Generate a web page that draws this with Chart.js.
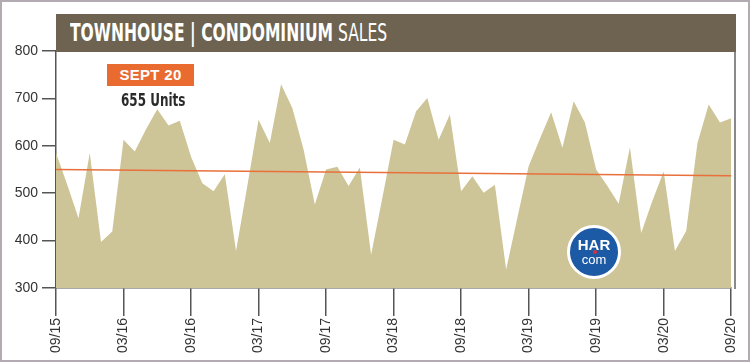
<!DOCTYPE html>
<html>
<head>
<meta charset="utf-8">
<script src="https://cdn.jsdelivr.net/npm/chart.js@4.4.0/dist/chart.umd.min.js"></script>
<style>
  html, body { margin: 0; padding: 0; background: #fff; }
  #wrap { position: relative; width: 750px; height: 362px; overflow: hidden; font-family: "Liberation Sans", Arial, sans-serif; }
  #c { position: absolute; left: 0; top: 0; }
  #frame { position: absolute; left: 0; top: 0; width: 750px; height: 362px; box-sizing: border-box; border: 2px solid #b3abb2; pointer-events: none; }
  #banner { position: absolute; left: 56px; top: 14px; width: 680px; height: 38px; background: #6e6350; }
  #banner span.t { position: absolute; left: 14px; top: 5px; white-space: nowrap; color: #fff; font-family: "Liberation Sans Narrow", "DejaVu Sans Condensed", sans-serif; font-size: 24px; transform: scaleX(0.72); transform-origin: left center; }
  #banner b { font-weight: bold; }
  #rline { position: absolute; left: 734px; top: 52px; width: 2px; height: 237px; background: #8a8a8a; }
  #sept { position: absolute; left: 107px; top: 64px; width: 87px; height: 22px; background: #e96b2f; color: #fff; font-weight: bold; font-size: 15px; line-height: 22px; text-align: center; letter-spacing: 0.3px; }
  #units { position: absolute; left: 121px; top: 89px; white-space: nowrap; color: #2a2a2a; font-family: "Liberation Sans Narrow", "DejaVu Sans Condensed", sans-serif; font-weight: bold; font-size: 18px; transform: scaleX(0.74); transform-origin: left center; }
  #logo { position: absolute; left: 567px; top: 225px; width: 54px; height: 54px; border-radius: 50%; background: #1d5aa6; border: 3px solid #fff; box-sizing: border-box; color: #fff; text-align: center; }
  #logo .h { position: absolute; left: 0; width: 100%; top: 9px; font-weight: bold; font-size: 15px; line-height: 15px; }
  #logo .m { position: absolute; left: 0; width: 100%; top: 25px; font-size: 13px; line-height: 13px; }
  #logo .d { position: absolute; left: 23px; top: 22px; width: 4px; height: 4px; border-radius: 50%; background: #d8333a; }
</style>
</head>
<body>
<div id="wrap">
  <canvas id="c" width="750" height="362"></canvas>
  <div id="banner"><span class="t"><b>TOWNHOUSE | CONDOMINIUM</b> SALES</span></div>
  <div id="rline"></div>
  <div id="sept">SEPT 20</div>
  <div id="units">655 Units</div>
  <div id="logo"><span class="h">HAR</span><span class="d"></span><span class="m">com</span></div>
  <div id="frame"></div>
</div>
<script>
// monthly townhouse/condo sales, 09/15 .. 09/20
var months = [
  '09/15','10/15','11/15','12/15','01/16','02/16','03/16','04/16','05/16','06/16','07/16','08/16',
  '09/16','10/16','11/16','12/16','01/17','02/17','03/17','04/17','05/17','06/17','07/17','08/17',
  '09/17','10/17','11/17','12/17','01/18','02/18','03/18','04/18','05/18','06/18','07/18','08/18',
  '09/18','10/18','11/18','12/18','01/19','02/19','03/19','04/19','05/19','06/19','07/19','08/19',
  '09/19','10/19','11/19','12/19','01/20','02/20','03/20','04/20','05/20','06/20','07/20','08/20',
  '09/20'
];
var sales = [
  585, 518, 447, 585, 397, 419, 613, 588, 635, 677, 643, 653,
  577, 521, 504, 540, 378, 515, 655, 606, 730, 680, 592, 476,
  550, 556, 515, 554, 370, 490, 613, 603, 673, 701, 613, 666,
  504, 536, 501, 518, 339, 448, 557, 615, 671, 596, 694, 649,
  550, 515, 478, 597, 416, 484, 546, 378, 420, 606, 687, 649,
  658
];
var tickLabels = ['09/15','03/16','09/16','03/17','09/17','03/18','09/18','03/19','09/19','03/20','09/20'];
var trendStart = 550;
var trendEnd = 537;
var yTicks = [300, 400, 500, 600, 700, 800];

var trend = months.map(function(m, i) {
  if (i === 0) return trendStart;
  if (i === months.length - 1) return trendEnd;
  return null;
});

var ctx = document.getElementById('c');
var chart = new Chart(ctx, {
  type: 'line',
  data: {
    labels: months,
    datasets: [
      {
        label: 'Trend',
        data: trend,
        borderColor: '#e8703a',
        borderWidth: 1.5,
        pointRadius: 0,
        spanGaps: true,
        fill: false,
        order: 0
      },
      {
        label: 'Sales',
        data: sales,
        borderWidth: 0,
        borderColor: 'rgba(0,0,0,0)',
        backgroundColor: '#cdc497',
        pointRadius: 0,
        tension: 0,
        fill: 'start',
        order: 1
      }
    ]
  },
  options: {
    responsive: false,
    animation: false,
    layout: { padding: { top: 51, right: 15, left: 0, bottom: 0 } },
    plugins: { legend: { display: false }, tooltip: { enabled: false } },
    scales: {
      x: {
        offset: false,
        grid: { drawOnChartArea: false, drawTicks: true, tickLength: 28, color: '#555', lineWidth: 1.5 },
        border: { display: true, color: '#555', width: 1.5 },
        ticks: {
          autoSkip: false,
          maxRotation: 90,
          minRotation: 90,
          padding: 2,
          color: '#333',
          font: { family: 'Liberation Sans', size: 14 },
          callback: function(v, i) {
            var l = months[i];
            return tickLabels.indexOf(l) >= 0 ? l : null;
          }
        },
        afterFit: function(s) { s.height = 74; }
      },
      y: {
        min: 300,
        max: 800,
        afterBuildTicks: function(s) { s.ticks = yTicks.map(function(v) { return { value: v }; }); },
        grid: { drawOnChartArea: false, drawTicks: true, tickLength: 14, color: '#555', lineWidth: 1.5 },
        border: { display: true, color: '#555', width: 1.5 },
        ticks: { padding: 4, color: '#333', font: { family: 'Liberation Sans', size: 14 } },
        afterFit: function(s) { s.width = 56; }
      }
    }
  }
});
</script>
</body>
</html>
